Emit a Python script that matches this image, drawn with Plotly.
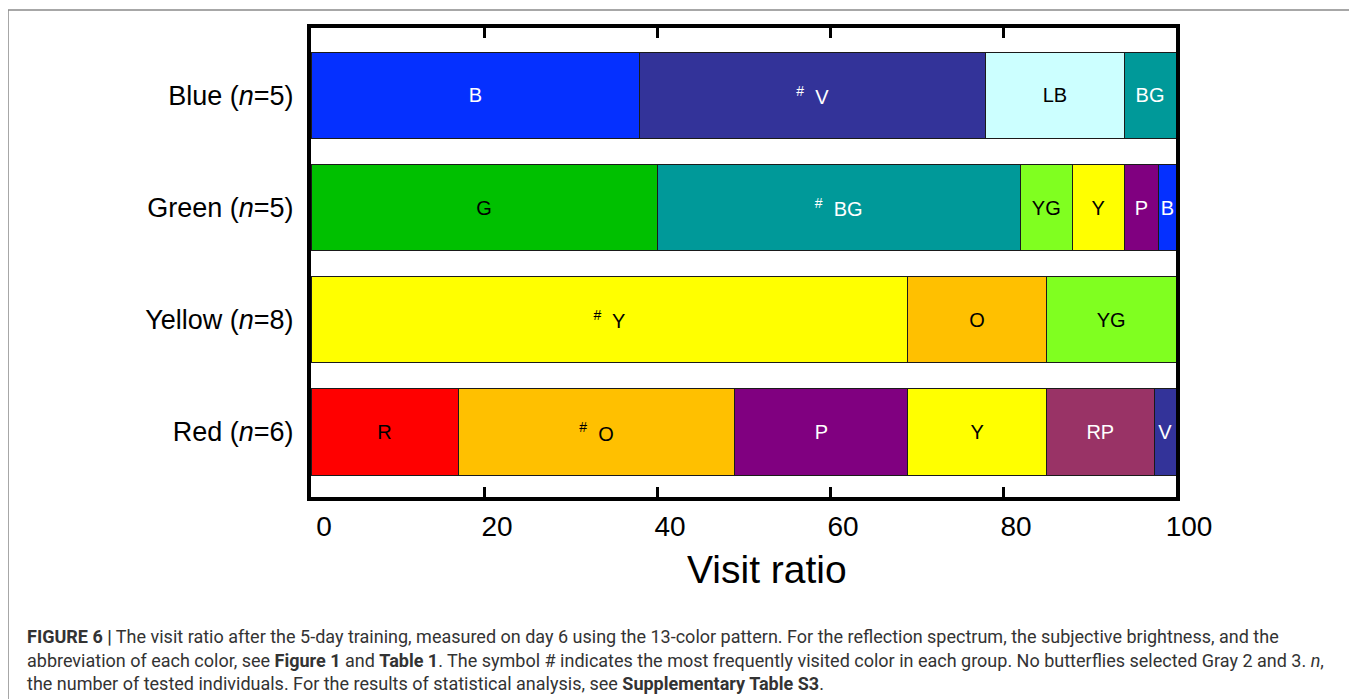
import plotly.graph_objects as go

# ---- data ----
groups = ["Red (<i>n</i>=6)", "Yellow (<i>n</i>=8)", "Green (<i>n</i>=5)", "Blue (<i>n</i>=5)"]

red_labels = ["R", "<sup>#</sup>  O", "P", "Y", "RP", "V"]
red_values = [17, 32, 20, 16, 12.5, 2.5]

yellow_labels = ["<sup>#</sup>  Y", "O", "YG"]
yellow_values = [69, 16, 15]

green_labels = ["G", "<sup>#</sup>  BG", "YG", "Y", "P", "B"]
green_values = [40, 42, 6, 6, 4, 2]

blue_labels = ["B", "<sup>#</sup>  V", "LB", "BG"]
blue_values = [38, 40, 16, 6]

x_ticks = [0, 20, 40, 60, 80, 100]

# ---- styles ----
color_map = {"R": "#FF0000", "O": "#FFC000", "P": "#800080", "Y": "#FFFF00",
             "RP": "#993366", "V": "#333399", "YG": "#80FF20", "G": "#00C000",
             "BG": "#009999", "B": "#0530FF", "LB": "#CCFFFF"}
dark = {"P", "RP", "V", "BG", "B"}

rows = [
    (groups[0], red_labels, red_values),
    (groups[1], yellow_labels, yellow_values),
    (groups[2], green_labels, green_values),
    (groups[3], blue_labels, blue_values),
]

fig = go.Figure()
for grp, labels, values in rows:
    for lab, val in zip(labels, values):
        key = lab.replace("<sup>#</sup>  ", "")
        fig.add_trace(go.Bar(
            x=[val], y=[grp], orientation="h",
            marker=dict(color=color_map[key], line=dict(color="#1a1a1a", width=1)),
            width=0.77,
            text=[lab], textposition="inside", insidetextanchor="middle",
            textfont=dict(size=20, color="white" if key in dark else "black",
                          family="Liberation Sans, Arial, sans-serif"),
            showlegend=False, hoverinfo="skip",
        ))

OFF = 8  # page body margin
W, H = 1357 - OFF, 699 - OFF
L, R, T, B = 311 - OFF, 1176 - OFF, 28 - OFF, 497 - OFF


def px_x(p):
    return (p - OFF - L) / (R - L)


def px_y(p):
    return (B - (p - OFF)) / (B - T)


fig.update_layout(
    barmode="stack",
    width=W, height=H,
    margin=dict(l=L, r=W - R, t=T, b=H - B, autoexpand=False),
    paper_bgcolor="white", plot_bgcolor="white",
    uniformtext=dict(minsize=20, mode="show"),
    font=dict(family="Liberation Sans, Arial, sans-serif", color="black"),
    xaxis=dict(range=[0, 100], tickvals=x_ticks, ticktext=[str(v) for v in x_ticks],
               ticks="inside", ticklen=10, tickwidth=3, tickcolor="black",
               showline=True, linewidth=4, linecolor="black", mirror="ticks",
               showgrid=False, zeroline=False, tickfont=dict(size=28),
               ticklabelshift=13, ticklabelstandoff=1),
    yaxis=dict(range=[-0.58, 3.6], showline=True, linewidth=4, linecolor="black",
               mirror=True, showgrid=False, zeroline=False, ticks="",
               tickfont=dict(size=27), ticklabelstandoff=8),
)

fig.add_annotation(text="Visit ratio", xref="paper", yref="paper",
                   x=px_x(767), y=px_y(569), xanchor="center", yanchor="middle",
                   showarrow=False, font=dict(size=39, color="black"))

# outer frame
for x0, y0, x1, y1 in [(8, 10, 1353, 10), (8, 10, 8, 705), (1353, 10, 1353, 705)]:
    fig.add_shape(type="line", xref="paper", yref="paper",
                  x0=px_x(x0), y0=px_y(y0), x1=px_x(x1), y1=px_y(y1),
                  line=dict(color="#8a8a8a", width=1.5))

caption = [
    "<b>FIGURE 6 |</b> The visit ratio after the 5-day training, measured on day 6 using the 13-color pattern. For the reflection spectrum, the subjective brightness, and the",
    "abbreviation of each color, see <b>Figure 1</b> and <b>Table 1</b>. The symbol # indicates the most frequently visited color in each group. No butterflies selected Gray 2 and 3. <i>n</i>,",
    "the number of tested individuals. For the results of statistical analysis, see <b>Supplementary Table S3</b>.",
]
for line, yc in zip(caption, [636, 660, 683]):
    fig.add_annotation(text=line, xref="paper", yref="paper",
                       x=px_x(25), y=px_y(yc), xanchor="left", yanchor="middle",
                       showarrow=False, align="left",
                       font=dict(size=18, color="#333333",
                                 family="Roboto, Arial, sans-serif"))

fig.write_html("out.html")
